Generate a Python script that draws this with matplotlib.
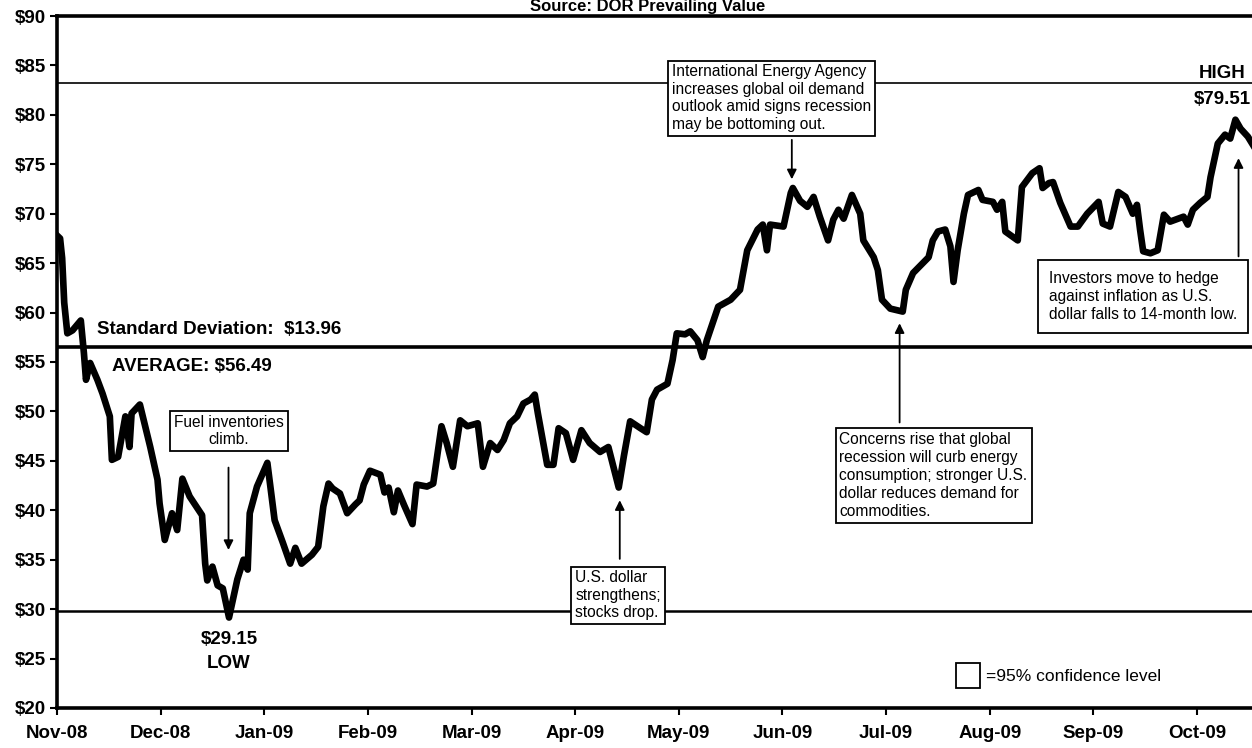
import matplotlib
matplotlib.use("Agg")
import matplotlib.pyplot as plt
from matplotlib.patches import Rectangle

plt.rcParams['font.family'] = ['Liberation Sans', 'DejaVu Sans']

# months since Nov-08 (tick positions are whole months)
month_labels = ['Nov-08', 'Dec-08', 'Jan-09', 'Feb-09', 'Mar-09', 'Apr-09',
                'May-09', 'Jun-09', 'Jul-09', 'Aug-09', 'Sep-09', 'Oct-09']

t = [0.00, 0.03, 0.05, 0.07, 0.10, 0.15, 0.23, 0.26, 0.28, 0.32, 0.39, 0.44,
     0.51, 0.53, 0.59, 0.66, 0.70, 0.72, 0.80, 0.90, 0.97, 0.99, 1.04, 1.11,
     1.16, 1.21, 1.28, 1.40, 1.43, 1.45, 1.50, 1.55, 1.60, 1.66, 1.74, 1.80,
     1.84, 1.86, 1.93, 2.03, 2.10, 2.18, 2.25, 2.30, 2.36, 2.46, 2.52, 2.57,
     2.62, 2.66, 2.73, 2.80, 2.88, 2.92, 2.96, 3.02, 3.12, 3.16, 3.20, 3.25,
     3.29, 3.35, 3.43, 3.47, 3.57, 3.63, 3.71, 3.76, 3.82, 3.89, 3.96, 4.06,
     4.11, 4.18, 4.25, 4.31, 4.37, 4.44, 4.50, 4.57, 4.61, 4.64, 4.73, 4.79,
     4.84, 4.91, 4.98, 5.06, 5.14, 5.24, 5.32, 5.42, 5.47, 5.53, 5.63, 5.69,
     5.74, 5.79, 5.89, 5.94, 5.98, 6.06, 6.11, 6.18, 6.23, 6.27, 6.38, 6.50,
     6.59, 6.66, 6.76, 6.81, 6.85, 6.88, 7.01, 7.08, 7.10, 7.17, 7.24, 7.30,
     7.36, 7.44, 7.49, 7.54, 7.59, 7.67, 7.75, 7.78, 7.88, 7.92, 7.96, 8.04,
     8.16, 8.19, 8.26, 8.41, 8.45, 8.50, 8.57, 8.62, 8.65, 8.69, 8.75, 8.79,
     8.89, 8.93, 9.03, 9.07, 9.12, 9.15, 9.27, 9.31, 9.41, 9.48, 9.51, 9.57,
     9.61, 9.68, 9.78, 9.85, 9.94, 10.05, 10.09, 10.16, 10.24, 10.31, 10.38,
     10.42, 10.45, 10.48, 10.55, 10.62, 10.68, 10.74, 10.87, 10.91, 10.96,
     11.03, 11.10, 11.13, 11.20, 11.27, 11.32, 11.37, 11.42, 11.49, 11.56]

price = [67.8, 67.5, 65.5, 61.0, 57.9, 58.2, 59.2, 55.9, 53.2, 54.9, 53.2, 51.8,
         49.5, 45.1, 45.4, 49.5, 46.4, 49.8, 50.7, 46.4, 43.1, 40.7, 37.0, 39.7,
         38.0, 43.2, 41.4, 39.5, 34.6, 32.9, 34.3, 32.4, 32.1, 29.15, 33.0, 35.0,
         34.0, 39.7, 42.4, 44.8, 39.0, 36.7, 34.6, 36.2, 34.6, 35.5, 36.3, 40.4,
         42.7, 42.2, 41.7, 39.7, 40.6, 41.0, 42.6, 44.0, 43.6, 41.8, 42.3, 39.8,
         42.0, 40.5, 38.6, 42.6, 42.4, 42.7, 48.5, 46.8, 44.4, 49.1, 48.5, 48.8,
         44.4, 46.8, 46.1, 47.1, 48.8, 49.5, 50.8, 51.2, 51.7, 49.8, 44.6, 44.6,
         48.3, 47.8, 45.1, 48.1, 46.8, 45.9, 46.4, 42.3, 45.5, 49.0, 48.3, 47.9,
         51.2, 52.2, 52.8, 55.2, 57.9, 57.8, 58.1, 57.2, 55.5, 57.2, 60.6, 61.3,
         62.3, 66.3, 68.4, 68.9, 66.3, 68.9, 68.7, 72.1, 72.6, 71.3, 70.7, 71.7,
         69.7, 67.3, 69.4, 70.4, 69.5, 71.9, 70.0, 67.3, 65.6, 64.3, 61.3, 60.4,
         60.1, 62.3, 64.0, 65.6, 67.3, 68.2, 68.4, 66.7, 63.1, 66.3, 70.0, 71.9,
         72.4, 71.4, 71.2, 70.4, 71.2, 68.2, 67.3, 72.7, 74.1, 74.6, 72.6, 73.1,
         73.2, 71.1, 68.7, 68.7, 70.0, 71.2, 69.0, 68.7, 72.2, 71.7, 70.0,
         70.9, 68.4, 66.2, 66.0, 66.3, 69.9, 69.2, 69.7, 68.9, 70.4,
         71.1, 71.7, 73.7, 77.1, 78.0, 77.6, 79.51, 78.6, 77.8, 76.6]

average = 56.49
std_dev = 13.96
upper_band = 83.2
lower_band = 29.85
low_value = 29.15
high_value = 79.51

fig = plt.figure(figsize=(12.52, 7.48), dpi=100)
ax = fig.add_axes([0.0455, 0.0535, 0.9545, 0.9251])

ax.plot(t, price, color='black', lw=4.8, solid_joinstyle='round', zorder=3)

ax.axhline(average, color='black', lw=2.6, zorder=2)
ax.axhline(upper_band, color='black', lw=1.2, zorder=2)
ax.axhline(lower_band, color='black', lw=1.8, zorder=2)

ax.set_xlim(0, 11.53)
ax.set_ylim(20, 90)
ax.set_yticks(range(20, 91, 5))
ax.set_yticklabels(['$%d' % v for v in range(20, 91, 5)], fontsize=13.5, fontweight='bold')
ax.set_xticks(range(len(month_labels)))
ax.set_xticklabels(month_labels, fontsize=13.5, fontweight='bold')
ax.tick_params(axis='y', length=5, width=1.5, pad=3)
ax.tick_params(axis='x', length=5, width=1.5, pad=7)

for side in ['left', 'bottom', 'top']:
    ax.spines[side].set_linewidth(2.6)
ax.spines['right'].set_visible(False)

fig.text(0.517, 1 - 11.5 / 748, 'Source: DOR Prevailing Value', ha='center', va='baseline',
         fontsize=12, fontweight='bold')

bold = dict(fontsize=13.5, fontweight='bold', va='center')
ax.text(0.39, 58.3, 'Standard Deviation:  $%.2f' % std_dev, ha='left', **bold)
ax.text(0.53, 54.5, 'AVERAGE: $%.2f' % average, ha='left', **bold)
ax.text(1.66, 26.9, '$%.2f' % low_value, ha='center', **bold)
ax.text(1.66, 24.5, 'LOW', ha='center', **bold)
ax.text(11.24, 84.2, 'HIGH', ha='center', **bold)
ax.text(11.24, 81.6, '$%.2f' % high_value, ha='center', **bold)

box = dict(boxstyle='square,pad=0.25', fc='white', ec='black', lw=1.3)
note_font = 11.2

ax.text(1.66, 48.0, 'Fuel inventories\nclimb.', ha='center', va='center',
        fontsize=note_font, bbox=box, linespacing=1.2, zorder=5)
ax.text(5.00, 31.4, 'U.S. dollar\nstrengthens;\nstocks drop.', ha='left', va='center',
        fontsize=note_font, bbox=box, linespacing=1.2, zorder=5)
ax.text(5.93, 81.7, 'International Energy Agency\nincreases global oil demand\n'
        'outlook amid signs recession\nmay be bottoming out.', ha='left', va='center',
        fontsize=note_font, bbox=box, linespacing=1.2, zorder=5)
ax.text(7.55, 43.5, 'Concerns rise that global\nrecession will curb energy\n'
        'consumption; stronger U.S.\ndollar reduces demand for\ncommodities.',
        ha='left', va='center', fontsize=note_font, bbox=box, linespacing=1.25, zorder=5)
ax.text(9.57, 61.6, 'Investors move to hedge\nagainst inflation as U.S.\n'
        'dollar falls to 14-month low.', ha='left', va='center', fontsize=note_font,
        bbox=dict(boxstyle='square,pad=0.7', fc='white', ec='black', lw=1.3),
        linespacing=1.25, zorder=5)

arrow = dict(arrowstyle='-|>', color='black', lw=1.3, mutation_scale=14)
ax.annotate('', xy=(1.655, 35.7), xytext=(1.655, 44.6), arrowprops=arrow, zorder=6)
ax.annotate('', xy=(5.43, 41.3), xytext=(5.43, 34.8), arrowprops=arrow, zorder=6)
ax.annotate('', xy=(7.09, 73.2), xytext=(7.09, 77.75), arrowprops=arrow, zorder=6)
ax.annotate('', xy=(8.13, 59.2), xytext=(8.13, 48.6), arrowprops=arrow, zorder=6)
ax.annotate('', xy=(11.40, 75.9), xytext=(11.40, 65.4), arrowprops=arrow, zorder=6)

ax.add_patch(Rectangle((8.67, 22.0), 0.24, 2.55, fill=False, ec='black', lw=1.3))
ax.text(8.96, 23.2, '=95% confidence level', ha='left', va='center', fontsize=12.5)

fig.savefig('out.png', dpi=100)
